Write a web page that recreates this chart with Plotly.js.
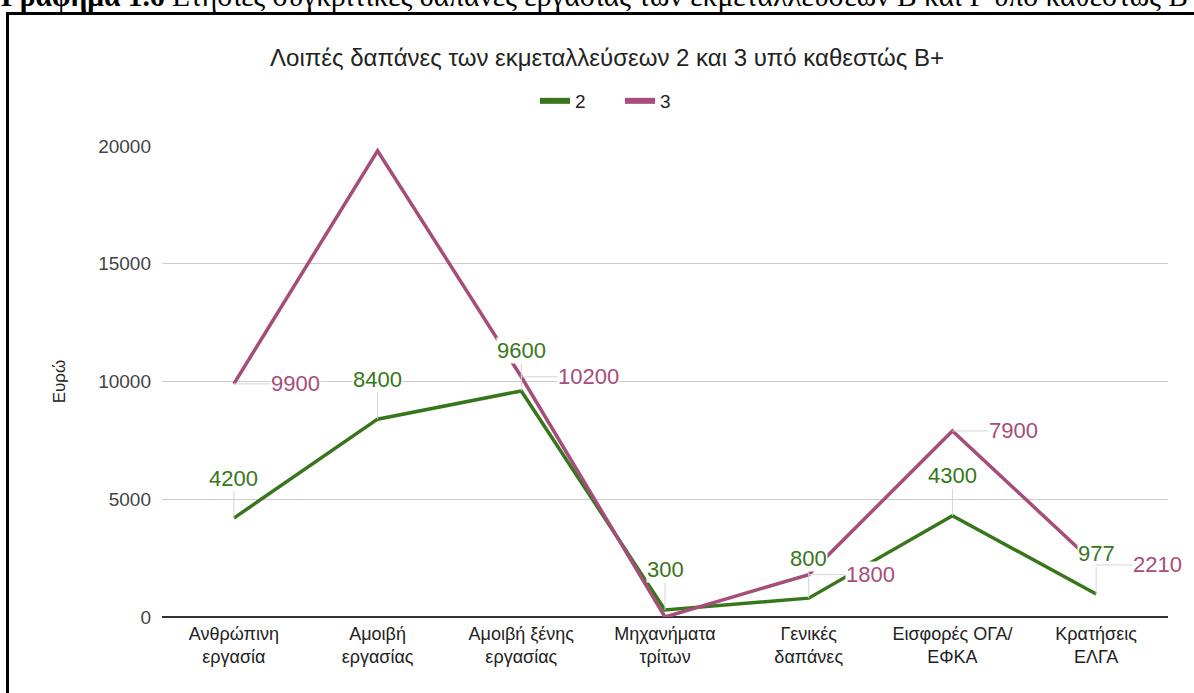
<!DOCTYPE html>
<html>
<head>
<meta charset="utf-8">
<script src="https://cdn.plot.ly/plotly-3.0.1.min.js"></script>
<style>
html, body { margin: 0; padding: 0; background: #ffffff; overflow: hidden; }
#chart { width: 1194px; height: 693px; }
</style>
</head>
<body>
<div id="chart"></div>
<script>
// ---- data ----
const categories = [
  "Ανθρώπινη<br>εργασία",
  "Αμοιβή<br>εργασίας",
  "Αμοιβή ξένης<br>εργασίας",
  "Μηχανήματα<br>τρίτων",
  "Γενικές<br>δαπάνες",
  "Εισφορές ΟΓΑ/<br>ΕΦΚΑ",
  "Κρατήσεις<br>ΕΛΓΑ"
];
const seriesNames = ["2", "3"];
const series2 = [4200, 8400, 9600, 300, 800, 4300, 977];
const series3 = [9900, 19800, 10200, 0, 1800, 7900, 2210];
const labels2 = ["4200", "8400", "9600", "300", "800", "4300", "977"];
const labels3 = ["9900", "", "10200", "", "1800", "7900", "2210"];
const yTickValues = [0, 5000, 10000, 15000, 20000];
const chartTitle = "Λοιπές δαπάνες των εκμεταλλεύσεων 2 και 3 υπό καθεστώς Β+";
const yAxisTitle = "Ευρώ";
const captionBold = "Γράφημα 1.6";
const captionText = "Ετήσιες συγκριτικές δαπάνες εργασίας των εκμεταλλεύσεων Β και Γ υπό καθεστώς Β";

// ---- styling ----
const GREEN = "#38761d";
const PURPLE = "#a64d79";
const FONT = "Liberation Sans, Arial, sans-serif";

// layout geometry (pixels)
const W = 1194, H = 693;
const M = { l: 162, r: 26, t: 146, b: 76 };
const PW = W - M.l - M.r, PH = H - M.t - M.b;
const px2x = p => (p - M.l) / PW;
const py2y = p => (H - M.b - p) / PH;

const traces = [
  { x: categories, y: series2, name: seriesNames[0], type: "scatter", mode: "lines",
    line: { color: GREEN, width: 3.5 }, showlegend: false, hoverinfo: "x+y" },
  { x: categories, y: series3, name: seriesNames[1], type: "scatter", mode: "lines",
    line: { color: PURPLE, width: 3.5 }, showlegend: false, hoverinfo: "x+y" },
  // legend swatches (thick keys, as in the original)
  { x: [null], y: [null], name: seriesNames[0], type: "scatter", mode: "lines",
    line: { color: GREEN, width: 6 }, showlegend: true, hoverinfo: "skip" },
  { x: [null], y: [null], name: seriesNames[1], type: "scatter", mode: "lines",
    line: { color: PURPLE, width: 6 }, showlegend: true, hoverinfo: "skip" }
];

const annotations = [];
categories.forEach((c, i) => {
  if (labels2[i]) {
    annotations.push({
      x: c, y: series2[i], xref: "x", yref: "y", text: labels2[i],
      showarrow: true, arrowhead: 0, arrowwidth: 1, arrowcolor: "#d4d4d4",
      ax: 0, ay: -40, standoff: 0,
      font: { family: FONT, size: 22, color: GREEN },
      bgcolor: "#ffffff", borderpad: 0
    });
  }
});
categories.forEach((c, i) => {
  if (labels3[i]) {
    annotations.push({
      x: c, y: series3[i], xref: "x", yref: "y", text: labels3[i],
      showarrow: true, arrowhead: 0, arrowwidth: 1, arrowcolor: "#d4d4d4",
      ax: 36, ay: 0, xanchor: "left", standoff: 0,
      font: { family: FONT, size: 22, color: PURPLE },
      bgcolor: "#ffffff", borderpad: 0
    });
  }
});
// document caption above the framed chart (partly above the picture's top, as in the original)
annotations.push({
  xref: "paper", yref: "paper", x: px2x(0), y: py2y(13), xanchor: "left", yanchor: "bottom",
  text: "<b>" + captionBold + "</b> " + captionText, showarrow: false,
  font: { family: "Liberation Serif, Times New Roman, serif", size: 29.5, color: "#000000" },
  borderpad: 0
});

const layout = {
  width: W, height: H,
  margin: M,
  paper_bgcolor: "#ffffff", plot_bgcolor: "#ffffff",
  font: { family: FONT, color: "#222222" },
  title: {
    text: chartTitle, xref: "container", yref: "container",
    x: 607 / W, xanchor: "center", y: 1 - 58 / H, yanchor: "middle",
    font: { family: FONT, size: 24, color: "#222222" }
  },
  legend: {
    orientation: "h", xref: "container", yref: "container",
    x: 620 / W, xanchor: "center", y: 1 - 101 / H, yanchor: "middle",
    font: { family: FONT, size: 19, color: "#222222" },
    entrywidth: 40, entrywidthmode: "pixels",
    bgcolor: "rgba(0,0,0,0)"
  },
  xaxis: {
    type: "category", range: [-0.5, categories.length - 0.5],
    showgrid: false, zeroline: false, showline: false, ticks: "",
    ticklabelstandoff: 4,
    tickfont: { family: FONT, size: 18, color: "#222222" },
    fixedrange: true
  },
  yaxis: {
    range: [0, 20000], tickvals: yTickValues, ticktext: yTickValues.map(String),
    showgrid: true, gridcolor: "#cccccc", gridwidth: 1,
    zeroline: true, zerolinecolor: "#333333", zerolinewidth: 1.5,
    showline: false, ticks: "", ticklabelstandoff: 10,
    tickfont: { family: FONT, size: 19, color: "#444444" },
    title: { text: yAxisTitle, standoff: 28, font: { family: FONT, size: 17, color: "#222222" } },
    fixedrange: true
  },
  shapes: [
    { type: "rect", xref: "paper", yref: "paper",
      x0: px2x(7.5), x1: px2x(W + 20), y0: py2y(13.5), y1: py2y(H + 20),
      line: { color: "#000000", width: 3 }, fillcolor: "rgba(0,0,0,0)", layer: "above" }
  ],
  annotations: annotations,
  showlegend: true
};

Plotly.newPlot("chart", traces, layout, { displayModeBar: false, staticPlot: true });
</script>
</body>
</html>
